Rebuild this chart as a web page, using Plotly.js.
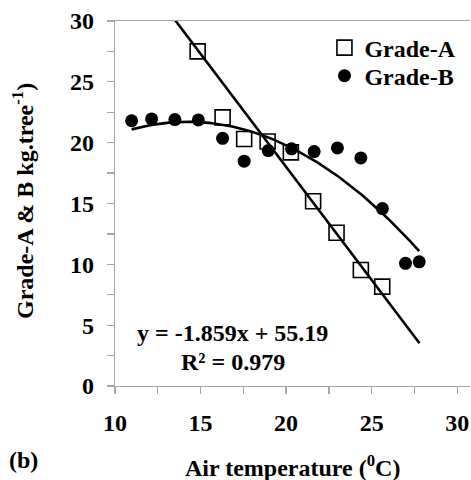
<!DOCTYPE html>
<html>
<head>
<meta charset="utf-8">
<script src="https://cdn.plot.ly/plotly-3.0.1.min.js"></script>
<style>html,body{margin:0;padding:0;background:#fff;}#chart{width:471px;height:480px;}</style>
</head>
<body>
<div id="chart"></div>
<script>
// Grade-A (open squares)
const tempA  = [14.83, 16.29, 17.55, 18.92, 20.28, 21.58, 22.95, 24.37, 25.62];
const gradeA = [27.5, 22.08, 20.3, 20.1, 19.2, 15.18, 12.59, 9.53, 8.17];
// Grade-B (filled circles)
const tempB  = [10.97, 12.14, 13.5, 14.87, 16.29, 17.55, 18.96, 20.32, 21.64, 23.0, 24.37, 25.63, 26.98, 27.78];
const gradeB = [21.8, 21.95, 21.9, 21.87, 20.36, 18.48, 19.35, 19.49, 19.27, 19.57, 18.75, 14.58, 10.08, 10.21];
// Linear trend of Grade-A as printed on the chart
const slopeA = -1.859, interceptA = 55.19;
const trendAX = [13.0, 27.8];
const eqLines = ["y = -1.859x + 55.19", "R\u00b2 = 0.979"];
const xTitle = "Air temperature (<sup>0</sup>C)";
const yTitle = "Grade-A &amp; B kg.tree<sup>-1</sup>)";
const panel = "(b)";

// least-squares polynomial (Excel-like trendline) for Grade-B
function polyfit(xs, ys, order) {
  const n = order + 1;
  const A = Array.from({length: n}, () => new Array(n + 1).fill(0));
  for (let k = 0; k < xs.length; k++) {
    for (let i = 0; i < n; i++) {
      for (let j = 0; j < n; j++) A[i][j] += Math.pow(xs[k], i + j);
      A[i][n] += ys[k] * Math.pow(xs[k], i);
    }
  }
  for (let i = 0; i < n; i++) {
    let p = i;
    for (let r = i + 1; r < n; r++) if (Math.abs(A[r][i]) > Math.abs(A[p][i])) p = r;
    [A[i], A[p]] = [A[p], A[i]];
    for (let r = 0; r < n; r++) {
      if (r === i) continue;
      const f = A[r][i] / A[i][i];
      for (let c = i; c <= n; c++) A[r][c] -= f * A[i][c];
    }
  }
  return A.map((row, i) => row[n] / row[i]);
}
const coefB = polyfit(tempB, gradeB, 2);
const xMinB = Math.min(...tempB), xMaxB = Math.max(...tempB);
const curveX = [], curveY = [];
for (let i = 0; i <= 100; i++) {
  const x = xMinB + (xMaxB - xMinB) * i / 100;
  curveX.push(x);
  curveY.push(coefB.reduce((s, c, p) => s + c * Math.pow(x, p), 0));
}

const font = {family: "Liberation Serif", size: 24, color: "#000", weight: "bold"};
const gray = "#a6a6a6";

const traces = [
  {x: trendAX, y: trendAX.map(x => slopeA * x + interceptA), mode: "lines",
   line: {color: "#000", width: 2.6}, showlegend: false, hoverinfo: "skip"},
  {x: curveX, y: curveY, mode: "lines",
   line: {color: "#000", width: 2.6}, showlegend: false, hoverinfo: "skip"},
  {x: tempA, y: gradeA, mode: "markers", name: "Grade-A", legend: "legend",
   marker: {symbol: "square-open", size: 15, color: "#000", line: {width: 1.6, color: "#000"}}},
  {x: tempB, y: gradeB, mode: "markers", name: "Grade-B", legend: "legend2",
   marker: {symbol: "circle", size: 13, color: "#000"}}
];

const legBase = {xanchor: "left", yanchor: "middle", font: font,
                 bgcolor: "rgba(0,0,0,0)", tracegroupgap: 0, itemwidth: 30};

const layout = {
  width: 471, height: 480,
  margin: {l: 115, r: 1, t: 21, b: 94},
  paper_bgcolor: "#fff", plot_bgcolor: "#fff",
  font: font,
  showlegend: true,
  legend: Object.assign({x: 0.59, y: 0.926}, legBase),
  legend2: Object.assign({x: 0.59, y: 0.849}, legBase),
  xaxis: {range: [10, 30.75], dtick: 5, tick0: 10, showgrid: false, zeroline: false,
          showline: true, linecolor: gray, linewidth: 1.3, mirror: true,
          ticks: "outside", ticklen: 7, tickcolor: gray, tickwidth: 1.3,
          ticklabelstandoff: 8, tickfont: font,
          minor: {dtick: 2.5, ticks: "outside", ticklen: 7, tickcolor: gray, tickwidth: 1.3, showgrid: false}},
  yaxis: {range: [0, 30], dtick: 5, tick0: 0, showgrid: false, zeroline: false,
          showline: true, linecolor: gray, linewidth: 1.3,
          ticks: "outside", ticklen: 7, tickcolor: gray, tickwidth: 1.3,
          ticklabelstandoff: 8, tickfont: font,
          minor: {dtick: 2.5, ticks: "outside", ticklen: 7, tickcolor: gray, tickwidth: 1.3, showgrid: false}},
  annotations: [
    {text: eqLines[0], x: 16.84, y: 4.36, xref: "x", yref: "y", showarrow: false, font: font, xanchor: "center", yanchor: "middle"},
    {text: eqLines[1], x: 16.87, y: 1.97, xref: "x", yref: "y", showarrow: false, font: font, xanchor: "center", yanchor: "middle"},
    {text: xTitle, x: 0.5, y: -0.219, xref: "paper", yref: "paper", showarrow: false, font: font, xanchor: "center", yanchor: "middle"},
    {text: yTitle, x: -0.259, y: 0.507, xref: "paper", yref: "paper", showarrow: false, font: font, textangle: -90, xanchor: "center", yanchor: "middle"},
    {text: panel, x: -0.304, y: -0.203, xref: "paper", yref: "paper", showarrow: false, font: font, xanchor: "left", yanchor: "middle"}
  ]
};

Plotly.newPlot("chart", traces, layout, {displayModeBar: false, staticPlot: true});
</script>
</body>
</html>
